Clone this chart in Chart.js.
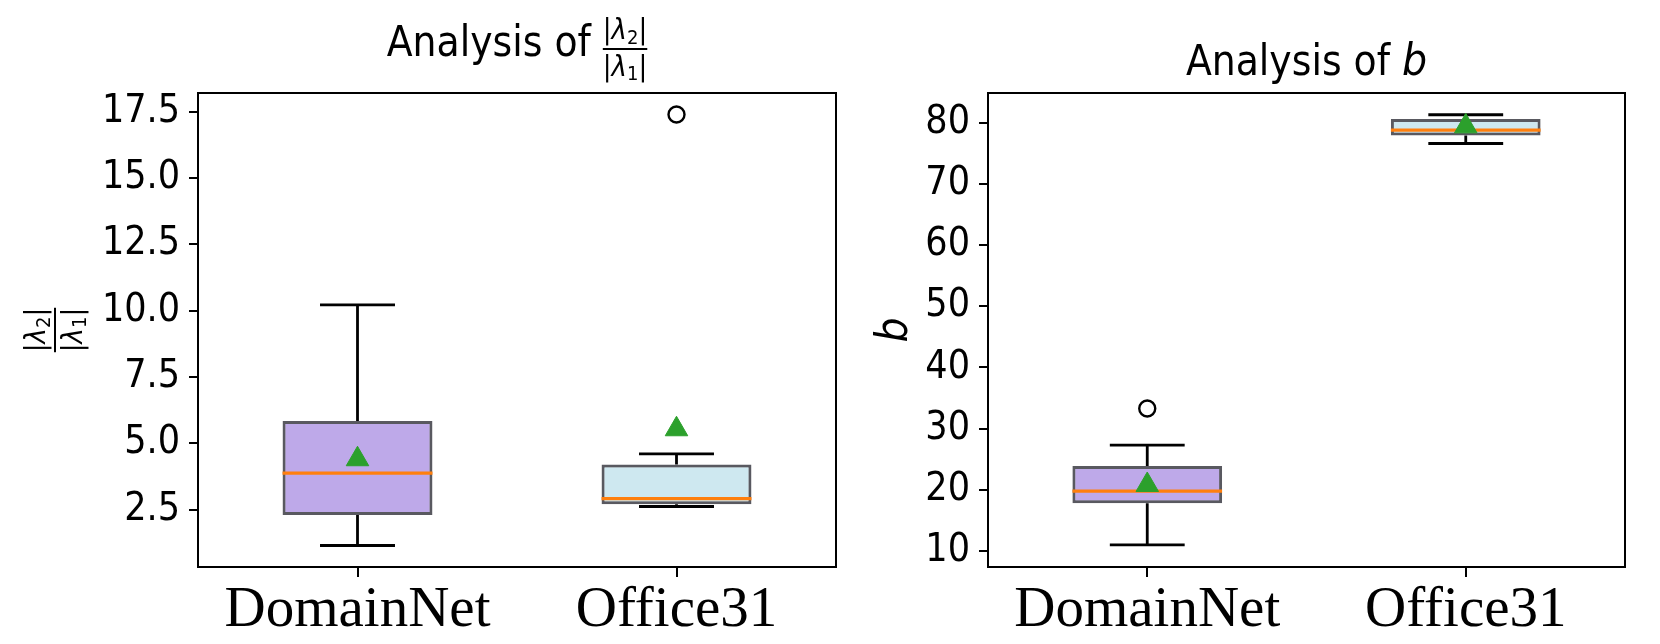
<!DOCTYPE html>
<html>
<head>
<meta charset="utf-8">
<script src="https://cdn.jsdelivr.net/npm/chart.js@4.4.1/dist/chart.umd.min.js"></script>
<style>
  body { margin: 0; background: #fff; width: 1660px; height: 644px; overflow: hidden; position: relative; }
  canvas { position: absolute; top: 0; }
  #ratioChart { left: 0; }
  #bChart { left: 830px; }
</style>
</head>
<body>
<canvas id="ratioChart" width="850" height="644"></canvas>
<canvas id="bChart" width="830" height="644"></canvas>
<script>
// categories on the x axis
var categories = ["DomainNet", "Office31"];

// |lambda2| / |lambda1| box stats
var ratioLow = [1.15, 2.62];
var ratioQ1 = [2.30, 2.70];
var ratioMedian = [3.88, 2.92];
var ratioQ3 = [5.84, 4.20];
var ratioHigh = [10.22, 4.60];
var ratioMean = [4.40, 5.53];
var ratioOutliers = [null, 17.39];
var ratioTicks = [2.5, 5.0, 7.5, 10.0, 12.5, 15.0, 17.5];

// b box stats
var bLow = [11.0, 76.6];
var bQ1 = [17.8, 77.9];
var bMedian = [19.8, 78.8];
var bQ3 = [23.9, 80.6];
var bHigh = [27.3, 81.3];
var bMean = [20.8, 79.4];
var bOutliers = [33.3, null];
var bTicks = [10, 20, 30, 40, 50, 60, 70, 80];

var boxColors = ["rgba(147,112,219,0.6)", "rgba(173,216,230,0.6)"];
var SANS = '"DejaVu Sans Condensed", "DejaVu Sans", sans-serif';
var SERIF = '"Liberation Serif", "Times New Roman", serif';

// draws |λ_sub| and returns its width
function lambdaAbs(ctx, x, base, size, sub, draw) {
  var start = x;
  ctx.font = size + "px " + SANS;
  if (draw) ctx.fillText("|", x, base);
  x += ctx.measureText("|").width;
  ctx.font = "italic " + size + "px " + SANS;
  if (draw) ctx.fillText("λ", x, base);
  x += ctx.measureText("λ").width;
  ctx.font = Math.round(size * 0.7) + "px " + SANS;
  if (draw) ctx.fillText(sub, x, base + size * 0.15);
  x += ctx.measureText(sub).width;
  ctx.font = size + "px " + SANS;
  if (draw) ctx.fillText("|", x, base);
  x += ctx.measureText("|").width;
  return x - start;
}

// fraction |λ2| over |λ1|, centred on cx, bar at barY
function drawFrac(ctx, cx, barY, size) {
  var wTop = lambdaAbs(ctx, 0, 0, size, "2", false);
  var wBot = lambdaAbs(ctx, 0, 0, size, "1", false);
  var w = Math.max(wTop, wBot);
  lambdaAbs(ctx, cx - wTop / 2, barY - size * 0.33, size, "2", true);
  lambdaAbs(ctx, cx - wBot / 2, barY + size * 0.92, size, "1", true);
  ctx.fillRect(cx - w / 2, barY - 1, w, 2);
  return w;
}

function boxChart(canvasId, s) {
  var boxParts = {
    id: "boxParts",
    afterDatasetDraw: function(chart, args) {
      if (args.index !== 0) return;
      var ctx = chart.ctx;
      var y = chart.scales.y;
      args.meta.data.forEach(function(bar, i) {
        var x = bar.x;
        var half = bar.width / 2;
        var cap = bar.width / 4;
        var yLow = y.getPixelForValue(s.low[i]);
        var yHigh = y.getPixelForValue(s.high[i]);
        ctx.save();
        ctx.strokeStyle = "#000";
        ctx.lineWidth = 2.8;
        ctx.beginPath();
        ctx.moveTo(x, yLow);
        ctx.lineTo(x, y.getPixelForValue(s.q1[i]));
        ctx.moveTo(x, y.getPixelForValue(s.q3[i]));
        ctx.lineTo(x, yHigh);
        ctx.moveTo(x - cap, yLow);
        ctx.lineTo(x + cap, yLow);
        ctx.moveTo(x - cap, yHigh);
        ctx.lineTo(x + cap, yHigh);
        ctx.stroke();
        // median line
        var yMed = y.getPixelForValue(s.median[i]);
        ctx.strokeStyle = "#ff7f0e";
        ctx.lineWidth = 3.2;
        ctx.beginPath();
        ctx.moveTo(x - half, yMed);
        ctx.lineTo(x + half, yMed);
        ctx.stroke();
        ctx.restore();
      });
    }
  };

  var frameAndText = {
    id: "frameAndText",
    afterDraw: function(chart) {
      var ctx = chart.ctx;
      var a = chart.chartArea;
      ctx.save();
      ctx.strokeStyle = "#000";
      ctx.lineWidth = 2;
      ctx.strokeRect(a.left, a.top, a.right - a.left, a.bottom - a.top);
      ctx.fillStyle = "#000";
      ctx.textAlign = "left";
      ctx.textBaseline = "alphabetic";
      s.drawTitle(ctx, a);
      s.drawYLabel(ctx, a);
      ctx.restore();
    }
  };

  return new Chart(document.getElementById(canvasId), {
    type: "bar",
    data: {
      labels: categories,
      datasets: [
        {
          data: s.q1.map(function(q, i) { return [q, s.q3[i]]; }),
          backgroundColor: boxColors,
          borderColor: "rgba(25,25,35,0.72)",
          borderWidth: 3,
          borderSkipped: false,
          barPercentage: 0.47,
          categoryPercentage: 1,
          order: 2
        },
        {
          type: "line",
          data: s.mean,
          showLine: false,
          pointStyle: "triangle",
          pointRadius: 13,
          backgroundColor: "#2ca02c",
          borderColor: "#2ca02c",
          borderWidth: 1,
          order: 0
        },
        {
          type: "line",
          data: s.outliers,
          showLine: false,
          pointStyle: "circle",
          pointRadius: 8,
          backgroundColor: "#fff",
          borderColor: "#000",
          borderWidth: 2.4,
          order: 0
        }
      ]
    },
    options: {
      responsive: false,
      animation: false,
      devicePixelRatio: 1,
      layout: { padding: { top: 93, right: s.padRight, left: 0, bottom: 0 } },
      plugins: { legend: { display: false }, tooltip: { enabled: false } },
      scales: {
        x: {
          offset: true,
          grid: { display: true, offset: false, drawOnChartArea: false, tickLength: 10, color: "#000", lineWidth: 2 },
          border: { display: true, color: "#000", width: 2 },
          ticks: { color: "#000", padding: 0, font: { family: SERIF, size: 57 } },
          afterFit: function(scale) { scale.height = 77; }
        },
        y: {
          min: s.min,
          max: s.max,
          grid: { display: true, drawOnChartArea: false, tickLength: 9, color: "#000", lineWidth: 2 },
          border: { display: true, color: "#000", width: 2 },
          afterBuildTicks: function(scale) {
            scale.ticks = s.ticks.map(function(v) { return { value: v }; });
          },
          ticks: {
            color: "#000",
            padding: 9,
            autoSkip: false,
            font: { family: SANS, size: 39 },
            callback: s.format
          },
          afterFit: function(scale) { scale.width = s.axisWidth; }
        }
      }
    },
    plugins: [boxParts, frameAndText]
  });
}

boxChart("ratioChart", {
  low: ratioLow, q1: ratioQ1, median: ratioMedian, q3: ratioQ3, high: ratioHigh,
  mean: ratioMean, outliers: ratioOutliers, ticks: ratioTicks,
  min: 0.34, max: 18.2, axisWidth: 198, padRight: 14,
  format: function(v) { return v.toFixed(1); },
  drawTitle: function(ctx, a) {
    var cx = (a.left + a.right) / 2;
    var label = "Analysis of ";
    ctx.font = "42px " + SANS;
    var w1 = ctx.measureText(label).width;
    var wf = lambdaAbs(ctx, 0, 0, 29, "2", false);
    var x0 = cx - (w1 + wf) / 2;
    ctx.font = "42px " + SANS;
    ctx.fillText(label, x0, 56);
    drawFrac(ctx, x0 + w1 + wf / 2, 49, 29);
  },
  drawYLabel: function(ctx, a) {
    ctx.save();
    ctx.translate(55, (a.top + a.bottom) / 2);
    ctx.rotate(-Math.PI / 2);
    drawFrac(ctx, 0, 0, 29);
    ctx.restore();
  }
});

boxChart("bChart", {
  low: bLow, q1: bQ1, median: bMedian, q3: bQ3, high: bHigh,
  mean: bMean, outliers: bOutliers, ticks: bTicks,
  min: 7.4, max: 84.85, axisWidth: 158, padRight: 35,
  format: function(v) { return String(v); },
  drawTitle: function(ctx, a) {
    var cx = (a.left + a.right) / 2;
    var label = "Analysis of ";
    ctx.font = "42px " + SANS;
    var w1 = ctx.measureText(label).width;
    ctx.font = "italic 44px " + SANS;
    var w2 = ctx.measureText("b").width;
    var x0 = cx - (w1 + w2) / 2;
    ctx.font = "42px " + SANS;
    ctx.fillText(label, x0, 75);
    ctx.font = "italic 44px " + SANS;
    ctx.fillText("b", x0 + w1, 75);
  },
  drawYLabel: function(ctx, a) {
    ctx.save();
    ctx.translate(77, (a.top + a.bottom) / 2);
    ctx.rotate(-Math.PI / 2);
    ctx.textAlign = "center";
    ctx.font = "italic 44px " + SANS;
    ctx.fillText("b", 0, 0);
    ctx.restore();
  }
});
</script>
</body>
</html>
